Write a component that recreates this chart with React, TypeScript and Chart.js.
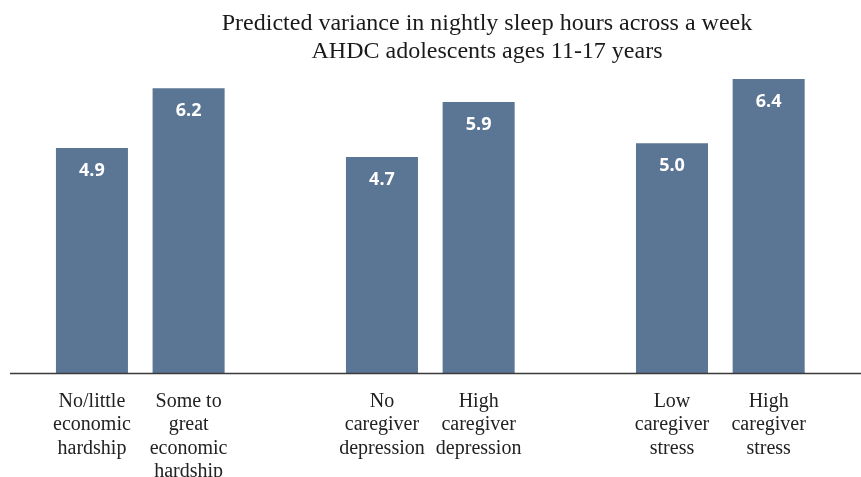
import React, { useEffect, useRef } from "react";
import { Chart, registerables } from "chart.js";

Chart.register(...registerables);

const titleLines = [
  "Predicted variance in nightly sleep hours across a week",
  "AHDC adolescents ages 11-17 years",
];
const categories: string[][] = [
  ["No/little", "economic", "hardship"],
  ["Some to", "great", "economic", "hardship"],
  [""],
  ["No", "caregiver", "depression"],
  ["High", "caregiver", "depression"],
  [""],
  ["Low", "caregiver", "stress"],
  ["High", "caregiver", "stress"],
];
const values: (number | null)[] = [4.9, 6.2, null, 4.7, 5.9, null, 5.0, 6.4];
const valueLabels: string[] = ["4.9", "6.2", "", "4.7", "5.9", "", "5.0", "6.4"];

const BAR_COLOR = "#5B7594";

const decorPlugin = {
  id: "decor",
  afterDatasetsDraw(chart: any) {
    const ctx = chart.ctx;
    const meta = chart.getDatasetMeta(0);
    ctx.save();
    // value labels
    ctx.fillStyle = "#ffffff";
    ctx.font = "bold 18px 'Open Sans', sans-serif";
    ctx.textAlign = "center";
    ctx.textBaseline = "middle";
    meta.data.forEach((el: any, i: number) => {
      if (values[i] == null) return;
      ctx.fillText(valueLabels[i], el.x, el.y + 23);
    });
    // baseline
    const yb = chart.scales.y.getPixelForValue(0);
    ctx.strokeStyle = "#3a3a3a";
    ctx.lineWidth = 1.5;
    ctx.beginPath();
    ctx.moveTo(10, yb + 0.5);
    ctx.lineTo(chart.width, yb + 0.5);
    ctx.stroke();
    // title
    ctx.fillStyle = "#1a1a1a";
    ctx.font = "24px 'Liberation Serif', 'Times New Roman', serif";
    ctx.textBaseline = "middle";
    ctx.fillText(titleLines[0], 487, 24);
    ctx.fillText(titleLines[1], 487, 52);
    ctx.restore();
  },
};

export default function App() {
  const ref = useRef<HTMLCanvasElement | null>(null);
  useEffect(() => {
    if (!ref.current) return;
    const chart = new Chart(ref.current, {
      type: "bar",
      data: {
        labels: categories,
        datasets: [
          {
            data: values,
            backgroundColor: BAR_COLOR,
            barPercentage: 1,
            categoryPercentage: 0.745,
          },
        ],
      },
      options: {
        animation: false,
        responsive: false,
        maintainAspectRatio: false,
        layout: { padding: { left: 43.6, right: 44, top: 51.4, bottom: 0 } },
        plugins: {
          legend: { display: false },
          tooltip: { enabled: false },
          title: { display: false },
        },
        scales: {
          x: {
            grid: { display: false },
            border: { display: false },
            ticks: {
              color: "#222222",
              padding: 9,
              maxRotation: 0,
              autoSkip: false,
              font: { family: "'Liberation Serif', 'Times New Roman', serif", size: 20, lineHeight: 1.165 },
            },
            afterFit: (scale: any) => {
              scale.height = 104;
            },
          },
          y: {
            display: false,
            min: 0,
            max: 7,
          },
        },
      },
      plugins: [decorPlugin],
    });
    return () => chart.destroy();
  }, []);
  return (
    <div style={{ position: "fixed", left: 0, top: 0, width: 861, height: 477, background: "#fff" }}>
      <canvas ref={ref} width={861} height={477} style={{ width: 861, height: 477, display: "block" }} />
    </div>
  );
}
